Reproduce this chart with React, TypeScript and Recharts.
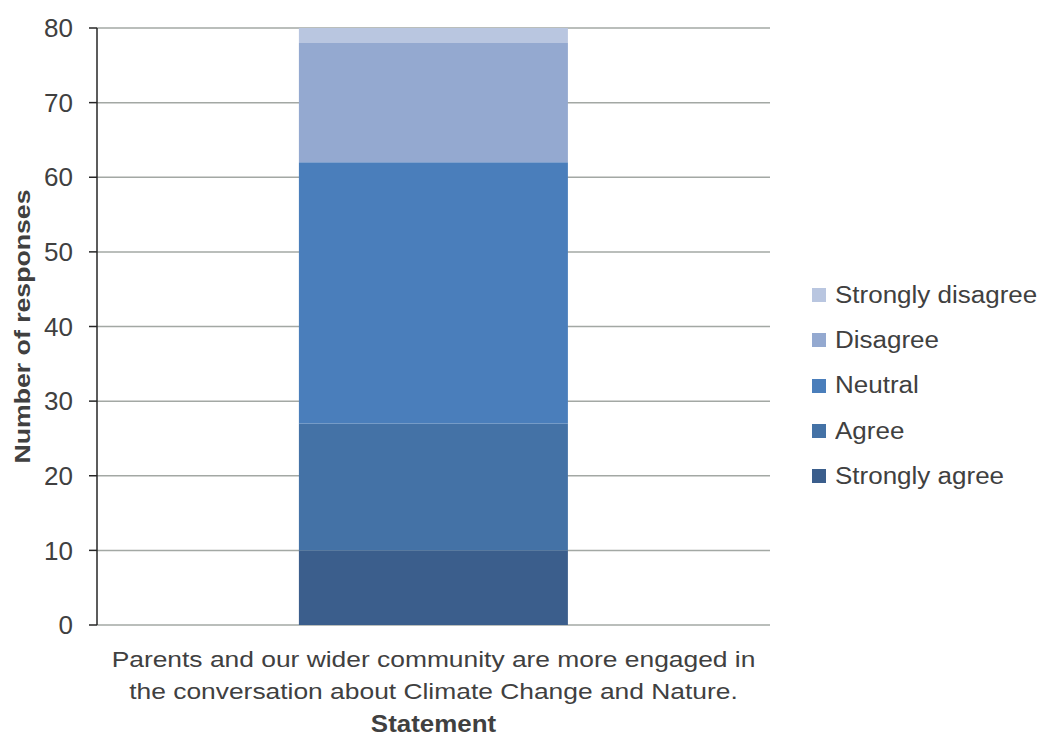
import React from 'react';
import { BarChart, Bar, XAxis, YAxis, CartesianGrid, Legend } from 'recharts';

// statement on the category axis, and how it wraps onto two lines
const categories = ['Parents and our wider community are more engaged in the conversation about Climate Change and Nature.'];
const categoryLines = ['Parents and our wider community are more engaged in', 'the conversation about Climate Change and Nature.'];

// responses per answer (stacked bottom to top)
const seriesNames = ['Strongly agree', 'Agree', 'Neutral', 'Disagree', 'Strongly disagree'];
const stronglyAgree = [10];
const agree = [17];
const neutral = [35];
const disagree = [16];
const stronglyDisagree = [2];

const yTicks = [0, 10, 20, 30, 40, 50, 60, 70, 80];

const COLORS = ['#3B5E8C', '#4472A6', '#4A7EBB', '#94A9D0', '#B9C6E0'];
const FONT = '"Liberation Sans", Arial, sans-serif';
const TEXT = '#404040';

const data = categories.map((name, i) => ({
  name,
  [seriesNames[0]]: stronglyAgree[i],
  [seriesNames[1]]: agree[i],
  [seriesNames[2]]: neutral[i],
  [seriesNames[3]]: disagree[i],
  [seriesNames[4]]: stronglyDisagree[i],
}));

const YTick = (props: any) => {
  const { x, y, payload } = props;
  return (
    <text x={x} y={y} dy="0.355em" textAnchor="end" fontFamily={FONT} fontSize={26} fill={TEXT}>
      {payload.value}
    </text>
  );
};

const CategoryTick = (props: any) => {
  const { x, y } = props;
  return (
    <g fontFamily={FONT} fontSize={22} fill={TEXT}>
      {categoryLines.map((line, i) => (
        <text key={i} transform={`translate(${x},${y + 42 + i * 32}) scale(1.2,1)`} textAnchor="middle">
          {line}
        </text>
      ))}
    </g>
  );
};

const XTitle = (props: any) => {
  const vb = props.viewBox || {};
  return (
    <text
      transform={`translate(${vb.x + vb.width / 2},${vb.y + 107}) scale(1.08,1)`}
      textAnchor="middle"
      fontFamily={FONT}
      fontSize={24}
      fontWeight="bold"
      fill={TEXT}
    >
      Statement
    </text>
  );
};

const YTitle = (props: any) => {
  const vb = props.viewBox || {};
  return (
    <text
      transform={`translate(30,${vb.y + vb.height / 2}) rotate(-90) scale(1.24,1)`}
      textAnchor="middle"
      fontFamily={FONT}
      fontSize={21.5}
      fontWeight="bold"
      fill={TEXT}
    >
      Number of responses
    </text>
  );
};

// legend lists the answers top-down, from Strongly disagree to Strongly agree
const renderLegend = (props: any) => {
  const byName: Record<string, string> = {};
  (props.payload || []).forEach((p: any) => {
    byName[p.value] = p.color;
  });
  const items = [...seriesNames].reverse();
  return (
    <div style={{ fontFamily: FONT }}>
      {items.map((name) => (
        <div key={name} style={{ height: 45.3, display: 'flex', alignItems: 'center' }}>
          <span
            style={{
              width: 14,
              height: 14,
              background: byName[name] || COLORS[seriesNames.indexOf(name)],
              marginRight: 9,
              flex: 'none',
            }}
          />
          <span
            style={{
              fontSize: 23,
              lineHeight: 1,
              color: TEXT,
              display: 'inline-block',
              whiteSpace: 'nowrap',
              transform: 'scaleX(1.13)',
              transformOrigin: 'left center',
            }}
          >
            {name}
          </span>
        </div>
      ))}
    </div>
  );
};

export default function App() {
  return (
    <div style={{ position: 'absolute', left: 0, top: 0, background: '#fff' }}>
      <BarChart
        width={1040}
        height={736}
        data={data}
        margin={{ top: 28, right: 270, bottom: 0, left: 0 }}
        barCategoryGap="30%"
      >
        <CartesianGrid vertical={false} stroke="#A3A8A4" strokeWidth={1.5} />
        {/* edge ticks of the category axis */}
        <XAxis
          xAxisId="edge"
          type="number"
          domain={[0, 1]}
          ticks={[0, 1]}
          height={0}
          tick={false}
          tickSize={8}
          axisLine={{ stroke: '#7F7F7F', strokeWidth: 1.5 }}
          tickLine={{ stroke: '#404040', strokeWidth: 1.5 }}
        />
        <XAxis
          dataKey="name"
          height={111}
          tickSize={0}
          tickMargin={0}
          axisLine={false}
          tickLine={false}
          tick={<CategoryTick />}
          interval={0}
          label={<XTitle />}
        />
        <YAxis
          width={97}
          domain={[0, 80]}
          ticks={yTicks}
          interval={0}
          tickSize={8}
          tickMargin={16}
          axisLine={{ stroke: '#262626', strokeWidth: 1.5 }}
          tickLine={{ stroke: '#262626', strokeWidth: 1.5 }}
          tick={<YTick />}
          label={<YTitle />}
        />
        <Legend
          layout="horizontal"
          verticalAlign="middle"
          align="center"
          content={renderLegend}
          wrapperStyle={{ left: 812, top: 272.5, width: 228 }}
        />
        {seriesNames.map((s, i) => (
          <Bar key={s} dataKey={s} stackId="a" fill={COLORS[i]} isAnimationActive={false} />
        ))}
      </BarChart>
    </div>
  );
}
